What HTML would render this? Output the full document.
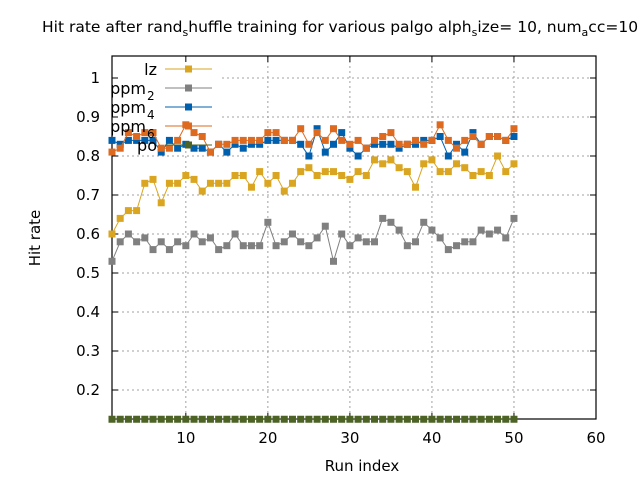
<!DOCTYPE html>
<html><head><meta charset="utf-8"><style>
body{margin:0;background:#fff}
svg text{font-family:"DejaVu Sans","Liberation Sans",sans-serif;fill:#000}
</style></head><body>
<svg id="chart" width="640" height="480" xmlns="http://www.w3.org/2000/svg">
<rect width="640" height="480" fill="#fff"/>
<text x="42" y="32" font-size="15.5">Hit rate after rand<tspan font-size="11" dy="4">s</tspan><tspan dy="-4">huffle training for various palgo alph</tspan><tspan font-size="11" dy="4">s</tspan><tspan dy="-4">ize= 10, num</tspan><tspan font-size="11" dy="4">a</tspan><tspan dy="-4">cc=10</tspan></text>
<g id="grid"></g>
<g id="legendbg"></g>
<g id="axes"></g>
<g id="series"></g>
<g id="legend"></g>
<text x="362" y="471" font-size="15" text-anchor="middle">Run index</text>
<text x="40" y="238" font-size="15" text-anchor="middle" transform="rotate(-90 40 238)">Hit rate</text>
</svg>
<script>
const runs = Array.from({length:50},(_,i)=>i+1);
const lz = [0.60,0.64,0.66,0.66,0.73,0.74,0.68,0.73,0.73,0.75,0.74,0.71,0.73,0.73,0.73,0.75,0.75,0.72,0.76,0.73,0.75,0.71,0.73,0.76,0.77,0.75,0.76,0.76,0.75,0.74,0.76,0.75,0.79,0.78,0.79,0.77,0.76,0.72,0.78,0.79,0.76,0.76,0.78,0.77,0.75,0.76,0.75,0.80,0.76,0.78];
const ppm2 = [0.53,0.58,0.60,0.58,0.59,0.56,0.58,0.56,0.58,0.57,0.60,0.58,0.59,0.56,0.57,0.60,0.57,0.57,0.57,0.63,0.57,0.58,0.60,0.58,0.57,0.59,0.62,0.53,0.60,0.57,0.59,0.58,0.58,0.64,0.63,0.61,0.57,0.58,0.63,0.61,0.59,0.56,0.57,0.58,0.58,0.61,0.60,0.61,0.59,0.64];
const ppm4 = [0.84,0.83,0.84,0.84,0.84,0.84,0.81,0.84,0.82,0.83,0.82,0.82,0.81,0.83,0.81,0.83,0.82,0.83,0.83,0.84,0.84,0.84,0.84,0.83,0.80,0.87,0.81,0.83,0.86,0.82,0.80,0.82,0.83,0.83,0.83,0.82,0.83,0.83,0.84,0.84,0.85,0.80,0.83,0.81,0.86,0.83,0.85,0.85,0.84,0.85];
const ppm6 = [0.81,0.82,0.86,0.85,0.86,0.86,0.82,0.82,0.84,0.88,0.86,0.85,0.81,0.83,0.83,0.84,0.84,0.84,0.84,0.86,0.86,0.84,0.84,0.87,0.83,0.86,0.84,0.87,0.84,0.83,0.84,0.82,0.84,0.85,0.86,0.83,0.83,0.84,0.83,0.84,0.88,0.84,0.82,0.84,0.85,0.83,0.85,0.85,0.84,0.87];
const po = Array(50).fill(0.125);
const xTicks = [10,20,30,40,50,60];
const yTicks = [0.2,0.3,0.4,0.5,0.6,0.7,0.8,0.9,1];
const seriesNames = ["lz","ppm2","ppm4","ppm6","po"];

const NS="http://www.w3.org/2000/svg";
const L=112,R=596,T=56,B=419,XMIN=1,XMAX=60;
const xs=v=>L+(v-XMIN)/(XMAX-XMIN)*(R-L);
const ys=v=>390-(v-0.2)*390;
function mk(tag,attrs,parent){const e=document.createElementNS(NS,tag);for(const k in attrs)e.setAttribute(k,attrs[k]);parent.appendChild(e);return e;}
const grid=document.getElementById('grid'),axes=document.getElementById('axes'),ser=document.getElementById('series'),leg=document.getElementById('legend'),lbg=document.getElementById('legendbg');
xTicks.forEach(t=>{const x=xs(t);
 if(t<60){const g=mk('line',{x1:x,x2:x,y1:T,y2:B,stroke:'#a0a0a0','stroke-dasharray':'2,3','stroke-width':1},grid);
 
 }
 mk('line',{x1:x,x2:x,y1:B,y2:B-6,stroke:'#000'},axes);mk('line',{x1:x,x2:x,y1:T,y2:T+6,stroke:'#000'},axes);
 const tx=mk('text',{x:x,y:443,'font-size':15,'text-anchor':'middle'},axes);tx.textContent=t;
 
 });
yTicks.forEach(t=>{const y=ys(t);
 const g=mk('line',{x1:L,x2:R,y1:y,y2:y,stroke:'#a0a0a0','stroke-dasharray':'2,3','stroke-width':1},grid);
 
 
 mk('line',{x1:L,x2:L+6,y1:y,y2:y,stroke:'#000'},axes);mk('line',{x1:R,x2:R-6,y1:y,y2:y,stroke:'#000'},axes);
 const tx=mk('text',{x:100,y:y+5,'font-size':15,'text-anchor':'end'},axes);tx.textContent=t;
 
 });
const fr=mk('rect',{x:L,y:T,width:R-L,height:B-T,fill:'none',stroke:'#000','stroke-width':1.2},axes);


const lb=mk('rect',{x:L+1,y:T+1,width:108,height:94,fill:'#fff'},lbg);


const colors=['#daa520','#808080','#0060ad','#dd6a1e','#4c6325'];
const data=[lz,ppm2,ppm4,ppm6,po];
data.forEach((vals,si)=>{const g=mk('g',{},ser);
 
 
 mk('polyline',{points:vals.map((v,i)=>xs(runs[i])+','+ys(v)).join(' '),fill:'none',stroke:colors[si],'stroke-width':1},g);
 vals.forEach((v,i)=>{const p=mk('rect',{x:xs(runs[i])-3.5,y:ys(v)-3.5,width:7,height:7,fill:colors[si]},g);
 
 });});
const labels=[['lz',''],['ppm','2'],['ppm','4'],['ppm','6'],['po','']];
labels.forEach((lab,i)=>{const y=69+i*19;const g=mk('g',{},leg);
 
 
 const t=mk('text',{x:lab[1]?146:157,y:y+6,'font-size':16,'text-anchor':'end'},g);t.textContent=lab[0];
 if(lab[1]){const s=mk('text',{x:147,y:y+12,'font-size':12},g);s.textContent=lab[1];}
 mk('line',{x1:165,x2:212,y1:y,y2:y,stroke:colors[i]},g);
 mk('rect',{x:185,y:y-3.5,width:7,height:7,fill:colors[i]},g);});
</script>
</body></html>
